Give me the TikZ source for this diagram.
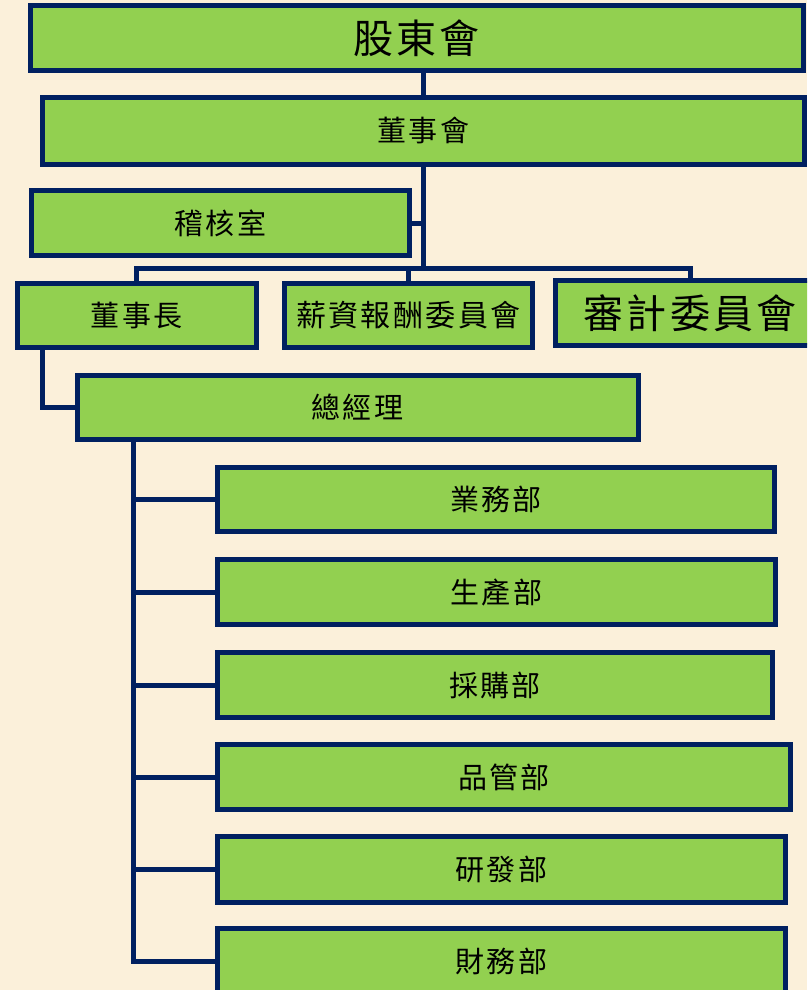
\documentclass[tikz,border=0pt]{standalone}
\usepackage{fontspec}
\newfontfamily\cjk[LetterSpace=8]{Noto Sans CJK TC}
\definecolor{bgcream}{HTML}{FBF0DA}
\definecolor{boxgreen}{HTML}{92D050}
\definecolor{navy}{HTML}{002060}
\tikzset{
  orgbox/.style={draw=navy, line width=5pt, fill=boxgreen, inner sep=0pt, outer sep=0pt,
    text=black, font=\cjk\fontsize{29}{29}\selectfont},
  bigtext/.style={font=\cjk\fontsize{40}{40}\selectfont},
  midtext/.style={font=\cjk\fontsize{30}{30}\selectfont},
  conn/.style={draw=navy, line width=5pt}
}
\begin{document}
\begin{tikzpicture}[x=1pt,y=-1pt]
\useasboundingbox (0,0) rectangle (807,990);
\fill[bgcream] (0,0) rectangle (807,990);
\clip (0,0) rectangle (807,990);

% nodes
\node[orgbox, bigtext, minimum width=772.5pt, minimum height=64.4pt] (gd) at (416.75,38) {股東會};
\node[orgbox, minimum width=762pt, minimum height=66.5pt] (dsh) at (423.5,130.75) {董事會};
\node[orgbox, minimum width=378pt, minimum height=65pt] (jh) at (220.5,223) {稽核室};
\node[orgbox, minimum width=239.5pt, minimum height=64pt] (dsz) at (136.75,315.5) {董事長};
\node[orgbox, midtext, minimum width=248.5pt, minimum height=64pt] (xz) at (408.25,315.5) {薪資報酬委員會};
\node[orgbox, bigtext, minimum width=269pt, minimum height=64.5pt] (sj) at (690,313) {審計委員會};
\node[orgbox, minimum width=561pt, minimum height=63.5pt] (zjl) at (357.5,407.25) {總經理};
\node[orgbox, minimum width=557pt, minimum height=64pt] (yw) at (496,499.5) {業務部};
\node[orgbox, minimum width=558pt, minimum height=65pt] (sc) at (496.5,592) {生產部};
\node[orgbox, minimum width=555pt, minimum height=65pt] (cg) at (495,685) {採購部};
\node[orgbox, minimum width=573pt, minimum height=65pt] (pg) at (504,777) {品管部};
\node[orgbox, minimum width=568pt, minimum height=66pt] (yf) at (501.5,869.5) {研發部};
\node[orgbox, minimum width=568pt, minimum height=65pt] (cw) at (501.5,961) {財務部};

% helper coordinates
\coordinate (bus) at (423,268.5);
\coordinate (dszdrop) at ([xshift=25pt]dsz.south west);
\coordinate (spine) at ([xshift=56pt]zjl.south west);

% connectors
\draw[conn] (dsh.north) -- (dsh.north |- gd.south);
\draw[conn] (dsh.south) -- (dsh.south |- bus);
\draw[conn] (jh.east) -- (jh.east -| dsh.south);
\draw[conn] (dsz.north) |- (sj.north |- bus) -- (sj.north);
\draw[conn] (xz.north) -- (xz.north |- bus);
\draw[conn] (dszdrop) |- (zjl.west);
\draw[conn] (spine) |- (cw.west);
\foreach \d in {yw,sc,cg,pg,yf}{
  \draw[conn] (\d.west) -- (\d.west -| spine);
}
\end{tikzpicture}
\end{document}
